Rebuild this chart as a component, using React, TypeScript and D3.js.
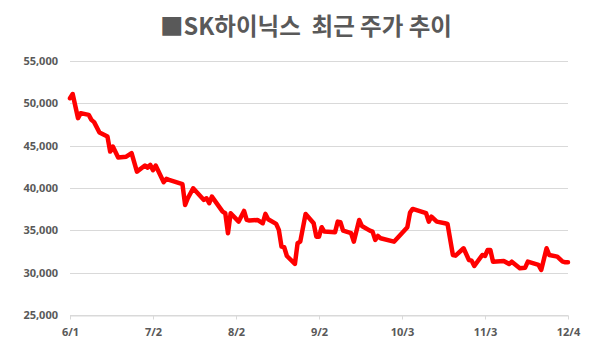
import React, { useRef, useEffect } from "react";
import * as d3 from "d3";

// 2015 daily closing prices
const dates = [
  "2015-06-01", "2015-06-02", "2015-06-04", "2015-06-05", "2015-06-08", "2015-06-09", "2015-06-10",
  "2015-06-12", "2015-06-15", "2015-06-16", "2015-06-17", "2015-06-19", "2015-06-22", "2015-06-24",
  "2015-06-26", "2015-06-29", "2015-06-30", "2015-07-01", "2015-07-02", "2015-07-03", "2015-07-06",
  "2015-07-07", "2015-07-08", "2015-07-13", "2015-07-14", "2015-07-15", "2015-07-17", "2015-07-21",
  "2015-07-22", "2015-07-23", "2015-07-24", "2015-07-28", "2015-07-29", "2015-07-30", "2015-07-31",
  "2015-08-03", "2015-08-05", "2015-08-06", "2015-08-07", "2015-08-10", "2015-08-12", "2015-08-13",
  "2015-08-14", "2015-08-17", "2015-08-18", "2015-08-19", "2015-08-20", "2015-08-21", "2015-08-24",
  "2015-08-25", "2015-08-26", "2015-08-28", "2015-08-31", "2015-09-01", "2015-09-02", "2015-09-03",
  "2015-09-04", "2015-09-08", "2015-09-09", "2015-09-10", "2015-09-11", "2015-09-14", "2015-09-15",
  "2015-09-17", "2015-09-18", "2015-09-21", "2015-09-22", "2015-09-23", "2015-09-24", "2015-09-25",
  "2015-09-30", "2015-10-02", "2015-10-05", "2015-10-06", "2015-10-07", "2015-10-12", "2015-10-13",
  "2015-10-14", "2015-10-16", "2015-10-19", "2015-10-20", "2015-10-22", "2015-10-23", "2015-10-26",
  "2015-10-28", "2015-10-29", "2015-10-30", "2015-11-02", "2015-11-03", "2015-11-04", "2015-11-05",
  "2015-11-06", "2015-11-10", "2015-11-12", "2015-11-13", "2015-11-16", "2015-11-18", "2015-11-19",
  "2015-11-23", "2015-11-24", "2015-11-26", "2015-11-27", "2015-11-30", "2015-12-02", "2015-12-03",
  "2015-12-04",
];

const prices = [
  50600, 51100, 48250, 48840, 48640, 48050, 47780,
  46550, 46070, 44300, 44890, 43600, 43700, 44110,
  41940, 42650, 42410, 42730, 42100, 42650, 40690,
  41080, 40960, 40450, 38000, 38790, 39970, 38590,
  38790, 38200, 38980, 37210, 37020, 34660, 37020,
  36030, 37290, 36230, 36150, 36230, 35840, 36940,
  36310, 35760, 35050, 33070, 33000, 31970, 31030,
  33470, 33660, 36940, 35840, 34250, 34250, 35370,
  34850, 34770, 36030, 35960, 34970, 34660, 33660,
  36230, 35520, 34970, 34850, 33870, 34340, 34070,
  33660, 34340, 35370, 37090, 37530, 37020, 36030,
  36620, 36030, 35840, 35760, 32090, 32010, 32880,
  31500, 31420, 30790, 32090, 31970, 32680, 32680,
  31300, 31380, 31030, 31300, 30520, 30590, 31300,
  30910, 30320, 32880, 32090, 31890, 31300, 31230,
  31230,
];

const xTickDates = ["2015-06-01", "2015-07-02", "2015-08-02", "2015-09-02", "2015-10-03", "2015-11-03", "2015-12-04"];
const xTickLabels = ["6/1", "7/2", "8/2", "9/2", "10/3", "11/3", "12/4"];
const yTicks = [25000, 30000, 35000, 40000, 45000, 50000, 55000];

const title = "■SK하이닉스  최근 주가 추이";

const App = () => {
  const svgRef = useRef(null);
  const W = 600;
  const H = 351;

  useEffect(() => {
    const svg = d3.select(svgRef.current);
    svg.selectAll("*").remove();

    const parse = d3.timeParse("%Y-%m-%d");
    const data = dates.map((d, i) => ({ date: parse(d), value: prices[i] }));

    const x = d3.scaleTime()
      .domain([parse("2015-06-01"), parse("2015-12-04")])
      .range([70, 568]);
    const y = d3.scaleLinear()
      .domain([25000, 55000])
      .range([315, 61]);

    // title
    svg.append("text")
      .attr("x", 306)
      .attr("y", 35)
      .attr("text-anchor", "middle")
      .style("font-family", "'Noto Sans CJK KR', 'Noto Sans', sans-serif")
      .style("font-size", "23.5px")
      .style("font-weight", "bold")
      .style("fill", "#595959")
      .style("white-space", "pre")
      .text(title);

    // gridlines
    svg.append("g")
      .selectAll("line")
      .data(yTicks)
      .enter()
      .append("line")
      .attr("x1", 70)
      .attr("x2", 568)
      .attr("y1", d => Math.round(y(d)) + 0.5)
      .attr("y2", d => Math.round(y(d)) + 0.5)
      .style("stroke", "#D9D9D9")
      .style("stroke-width", 1);

    // y labels
    svg.append("g")
      .selectAll("text")
      .data(yTicks)
      .enter()
      .append("text")
      .attr("x", 58)
      .attr("y", d => y(d))
      .attr("dy", "0.35em")
      .attr("text-anchor", "end")
      .style("font-family", "'Noto Sans', sans-serif")
      .style("font-size", "11px")
      .style("font-weight", "bold")
      .style("fill", "#595959")
      .text(d => d3.format(",")(d));

    // x axis
    const xAxis = d3.axisBottom(x)
      .tickValues(xTickDates.map(d => parse(d)))
      .tickSize(4)
      .tickSizeOuter(0)
      .tickFormat((d, i) => xTickLabels[i]);

    const gx = svg.append("g")
      .attr("transform", `translate(0, ${Math.round(y(25000)) + 0.5})`)
      .call(xAxis);
    gx.select(".domain").style("stroke", "#D9D9D9");
    gx.selectAll(".tick line").style("stroke", "#D9D9D9");
    gx.selectAll(".tick text")
      .attr("y", 13)
      .style("font-family", "'Noto Sans', sans-serif")
      .style("font-size", "11px")
      .style("font-weight", "bold")
      .style("fill", "#595959");

    // price line
    const line = d3.line()
      .x(d => x(d.date))
      .y(d => y(d.value));

    svg.append("path")
      .datum(data)
      .attr("d", line)
      .style("fill", "none")
      .style("stroke", "#FF0000")
      .style("stroke-width", 4.5)
      .style("stroke-linejoin", "round")
      .style("stroke-linecap", "round");
  }, []);

  return (
    <svg
      ref={svgRef}
      width={W}
      height={H}
      style={{ position: "absolute", left: 0, top: 0, background: "#fff" }}
    />
  );
};

export default App;
